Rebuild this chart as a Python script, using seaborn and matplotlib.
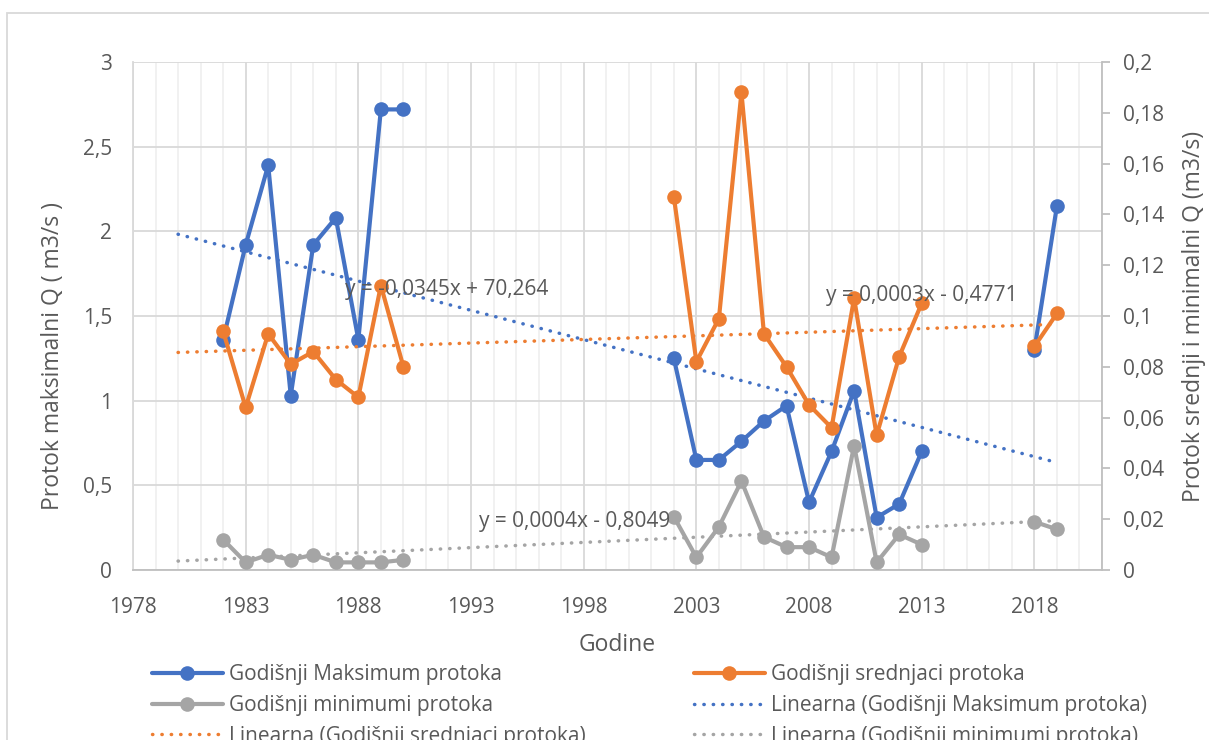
import matplotlib
matplotlib.use('Agg')
import matplotlib.pyplot as plt
import matplotlib.patches as patches
from matplotlib.lines import Line2D
from matplotlib.ticker import FixedLocator, MultipleLocator
import numpy as np
import pandas as pd
import seaborn as sns

# podaci ocitani sa grafika
godine = [1982, 1983, 1984, 1985, 1986, 1987, 1988, 1989, 1990,
          2002, 2003, 2004, 2005, 2006, 2007, 2008, 2009, 2010, 2011, 2012, 2013,
          2018, 2019]
q_max = [1.36, 1.92, 2.39, 1.03, 1.92, 2.08, 1.36, 2.72, 2.72,
         1.25, 0.65, 0.65, 0.76, 0.88, 0.97, 0.40, 0.70, 1.06, 0.31, 0.39, 0.70,
         1.30, 2.15]
q_sred = [0.094, 0.064, 0.093, 0.081, 0.086, 0.075, 0.068, 0.112, 0.080,
          0.147, 0.082, 0.099, 0.188, 0.093, 0.080, 0.065, 0.056, 0.107, 0.053, 0.084, 0.105,
          0.088, 0.101]
q_min = [0.012, 0.003, 0.006, 0.004, 0.006, 0.003, 0.003, 0.003, 0.004,
         0.021, 0.005, 0.017, 0.035, 0.013, 0.009, 0.009, 0.005, 0.049, 0.003, 0.014, 0.010,
         0.019, 0.016]

lijevi_ticks = [0, 0.5, 1, 1.5, 2, 2.5, 3]
desni_ticks = [0, 0.02, 0.04, 0.06, 0.08, 0.1, 0.12, 0.14, 0.16, 0.18, 0.2]
x_ticks = [1978, 1983, 1988, 1993, 1998, 2003, 2008, 2013, 2018]
trend_x = [1980, 2019]
jednacine = ['y = -0,0345x + 70,264', 'y = 0,0003x - 0,4771', 'y = 0,0004x - 0,8049']

imena = ['Godišnji Maksimum protoka', 'Godišnji srednjaci protoka', 'Godišnji minimumi protoka']

plava, narandzasta, siva = '#4472C4', '#ED7D31', '#A5A5A5'
tekst = '#595959'
mreza = '#D9D9D9'

sns.set_style('white')
plt.rcParams['font.family'] = ['Open Sans', 'DejaVu Sans']

df = pd.DataFrame({'godina': godine, 'max': q_max, 'sred': q_sred, 'min': q_min})
# prekid linije gdje nedostaju godine
df['seg'] = (df['godina'].diff() > 1).cumsum()

fig = plt.figure(figsize=(12.09, 7.40), dpi=100)
ax = fig.add_axes([133 / 1209, 1 - 570 / 740, 969 / 1209, 508 / 740])
ax2 = ax.twinx()

lw = 3.0
ms = 10.5
dot = (0, (0.1, 2.6))
fs = 15

sns.lineplot(data=df, x='godina', y='max', units='seg', estimator=None, ax=ax,
             color=plava, lw=lw, marker='o', markersize=ms, markeredgewidth=0)
sns.lineplot(data=df, x='godina', y='sred', units='seg', estimator=None, ax=ax2,
             color=narandzasta, lw=lw, marker='o', markersize=ms, markeredgewidth=0)
sns.lineplot(data=df, x='godina', y='min', units='seg', estimator=None, ax=ax2,
             color=siva, lw=lw, marker='o', markersize=ms, markeredgewidth=0)

# linearni trend
tx = np.array(trend_x, dtype=float)
for kol, osa, boja in [('max', ax, plava), ('sred', ax2, narandzasta), ('min', ax2, siva)]:
    k, n = np.polyfit(df['godina'], df[kol], 1)
    osa.plot(tx, k * tx + n, color=boja, lw=2.5, linestyle=dot, dash_capstyle='round', zorder=1)

ax.set_xlim(1978, 2021)
ax.set_ylim(0, 3)
ax2.set_ylim(0, 0.2)

ax.xaxis.set_major_locator(FixedLocator(x_ticks))
ax.xaxis.set_minor_locator(MultipleLocator(1))
ax.yaxis.set_major_locator(FixedLocator(lijevi_ticks))
ax2.yaxis.set_major_locator(FixedLocator(desni_ticks))

def zarez(v):
    return ('%g' % v).replace('.', ',')

ax.set_xticklabels([str(t) for t in x_ticks])
ax.set_yticklabels([zarez(t) for t in lijevi_ticks])
ax2.set_yticklabels([zarez(t) for t in desni_ticks])

ax.grid(which='major', axis='both', color=mreza, lw=1.3)
ax.grid(which='minor', axis='x', color='#F0F0F0', lw=1.3)
ax.set_axisbelow(True)

for s in ['top', 'right']:
    ax.spines[s].set_visible(False)
for s in ['top', 'left', 'bottom']:
    ax2.spines[s].set_visible(False)
ax.spines['left'].set_color(mreza)
ax.spines['bottom'].set_color('#BFBFBF')
ax.spines['left'].set_linewidth(1.3)
ax.spines['bottom'].set_linewidth(1.3)
ax2.spines['right'].set_color('#BFBFBF')
ax2.spines['right'].set_linewidth(1.3)

ax.tick_params(axis='x', which='both', length=0, pad=19.5, labelsize=fs, labelcolor=tekst)
ax.tick_params(axis='y', length=0, pad=15, labelsize=fs, labelcolor=tekst)
ax2.tick_params(axis='y', length=6, width=1.3, color='#BFBFBF', pad=9, labelsize=fs, labelcolor=tekst)

ax.set_xlabel('Godine', fontsize=16.5, color=tekst)
ax.set_ylabel('Protok maksimalni Q ( m3/s )', fontsize=16.5, color=tekst)
ax2.set_ylabel('Protok srednji i minimalni Q (m3/s)', fontsize=16.5, color=tekst)
ax.xaxis.label.set_va('center')
ax.xaxis.set_label_coords(0.5, (570 - 645) / 508)
ax.yaxis.label.set_va('center')
ax.yaxis.set_label_coords((53 - 133) / 969, (570 - 356) / 508)
ax2.yaxis.label.set_va('center')
ax2.yaxis.set_label_coords((1194 - 133) / 969, 0.5)

# jednacine trenda
poz = [(1987.4, 1.654), (2008.76, 1.624), (1993.36, 0.2835)]
for (x, y), t in zip(poz, jednacine):
    ax2.text(x, y, t, transform=ax.transData, fontsize=fs, color=tekst, va='center', ha='left', zorder=5)

# legenda u dvije kolone
def linija(boja):
    return Line2D([], [], color=boja, lw=lw, marker='o', markersize=ms, markeredgewidth=0)

def tacke(boja):
    return Line2D([], [], color=boja, lw=2.5, linestyle=dot, dash_capstyle='round')

kol1 = [linija(plava), linija(siva), tacke(narandzasta)]
lab1 = [imena[0], imena[2], 'Linearna (' + imena[1] + ')']
kol2 = [linija(narandzasta), tacke(plava), tacke(siva)]
lab2 = [imena[1], 'Linearna (' + imena[0] + ')', 'Linearna (' + imena[2] + ')']

for h, l, x0 in [(kol1, lab1, 152), (kol2, lab2, 694)]:
    leg = fig.legend(h, l, loc='upper left', bbox_to_anchor=(x0 / 1209, 1 - 664 / 740),
                     frameon=False, fontsize=fs, labelcolor=tekst, handlelength=3.4,
                     handletextpad=0.3, borderpad=0, borderaxespad=0, labelspacing=0.47)

fig.add_artist(patches.Rectangle((7 / 1209, -0.1), 1.2, 1 - 13 / 740 + 0.1,
                                 transform=fig.transFigure, fill=False, ec=mreza, lw=1.3))

fig.savefig('out.png', dpi=100)
